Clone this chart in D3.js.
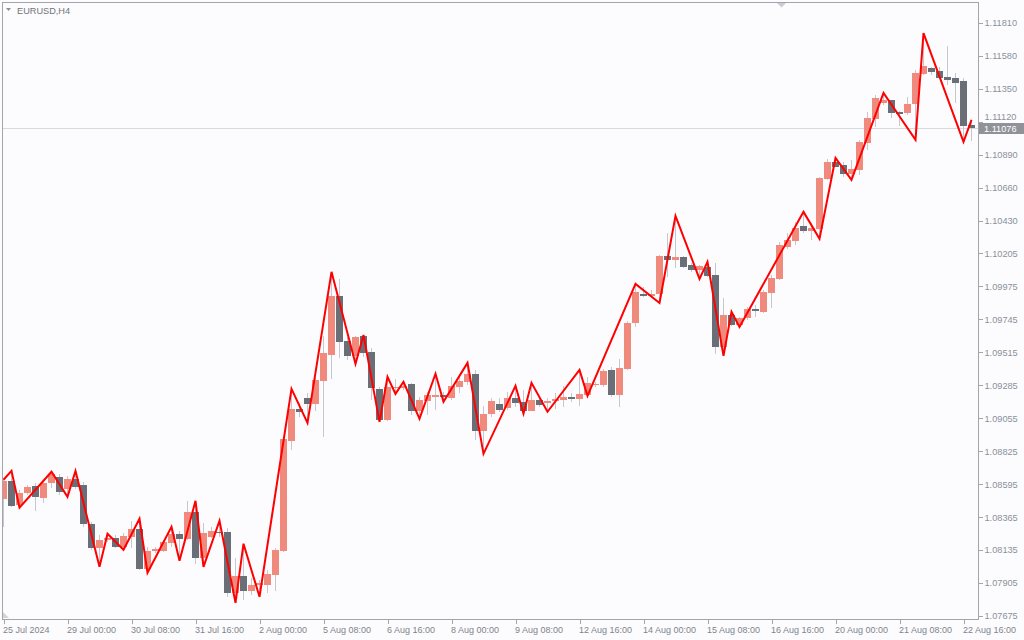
<!DOCTYPE html>
<html><head><meta charset="utf-8">
<script src="https://cdn.jsdelivr.net/npm/d3@7"></script>
<style>
html,body{margin:0;padding:0;background:#fcfcfe;}
svg{display:block;font-family:"Liberation Sans",Arial,sans-serif;}
</style>
</head><body>
<svg id="chart" width="1024" height="640"></svg>
<script>
const symbolTitle = "EURUSD,H4";
const lastPrice = 1.11076;

const opens = [1.08492,1.08618,1.08450,1.08534,1.08583,1.08499,1.08604,1.08646,1.08562,1.08632,
1.08590,1.08318,1.08151,1.08207,1.08220,1.08158,1.08227,1.08283,1.08004,1.08130,
1.08130,1.08186,1.08248,1.08213,1.08402,1.08081,1.08227,1.08262,1.08262,1.07837,
1.07956,1.07851,1.07893,1.07893,1.07963,1.08130,1.08897,1.09120,1.09196,1.09154,
1.09315,1.09496,1.09907,1.09594,1.09489,1.09628,1.09517,1.09259,1.09043,1.09266,
1.09266,1.09294,1.09106,1.09175,1.09203,1.09217,1.09196,1.09273,1.09308,1.09364,
1.08966,1.09085,1.09154,1.09127,1.09196,1.09168,1.09106,1.09182,1.09161,1.09175,
1.09182,1.09203,1.09189,1.09217,1.09287,1.09287,1.09391,1.09217,1.09398,1.09719,
1.09921,1.09907,1.09921,1.10186,1.10158,1.10179,1.10123,1.10088,1.10109,1.10054,
1.09552,1.09775,1.09705,1.09754,1.09817,1.09796,1.09928,1.10026,1.10249,1.10291,
1.10395,1.10360,1.10374,1.10723,1.10841,1.10820,1.10758,1.10785,1.10974,1.11141,
1.11252,1.11273,1.11190,1.11183,1.11245,1.11455,1.11496,1.11475,1.11434,1.11427,
1.11406,1.11099];

const highs = [1.08639,1.08687,1.08555,1.08590,1.08604,1.08625,1.08681,1.08667,1.08653,1.08687,
1.08611,1.08332,1.08241,1.08248,1.08241,1.08255,1.08339,1.08353,1.08158,1.08158,
1.08207,1.08297,1.08269,1.08478,1.08478,1.08325,1.08297,1.08339,1.08290,1.08081,
1.08179,1.07942,1.07928,1.07997,1.08151,1.08924,1.09259,1.09161,1.09231,1.09343,
1.09628,1.10075,1.10026,1.09621,1.09628,1.09635,1.09545,1.09273,1.09343,1.09329,
1.09308,1.09301,1.09203,1.09238,1.09364,1.09238,1.09343,1.09357,1.09440,1.09391,
1.09141,1.09196,1.09196,1.09238,1.09280,1.09252,1.09301,1.09196,1.09196,1.09231,
1.09280,1.09231,1.09391,1.09343,1.09308,1.09398,1.09412,1.09468,1.09733,1.09991,
1.09970,1.09949,1.10193,1.10346,1.10465,1.10186,1.10137,1.10123,1.10144,1.10137,
1.09893,1.09796,1.09761,1.09831,1.09844,1.09949,1.10054,1.10284,1.10346,1.10423,
1.10493,1.10416,1.10737,1.10862,1.10869,1.10841,1.10855,1.10995,1.11190,1.11308,
1.11322,1.11273,1.11197,1.11294,1.11482,1.11740,1.11503,1.11503,1.11650,1.11462,
1.11427,1.11134];

const lows = [1.08297,1.08437,1.08430,1.08520,1.08409,1.08464,1.08569,1.08520,1.08506,1.08562,
1.08297,1.08137,1.08018,1.08193,1.08151,1.08137,1.08151,1.07997,1.07977,1.08116,
1.08123,1.08158,1.08060,1.08207,1.08039,1.08018,1.08220,1.08227,1.07809,1.07767,
1.07788,1.07823,1.07809,1.07837,1.07851,1.08123,1.08834,1.09064,1.09022,1.09106,
1.08924,1.09329,1.09475,1.09461,1.09433,1.09482,1.09182,1.09029,1.09036,1.09224,
1.09252,1.09078,1.09050,1.09078,1.09113,1.09168,1.09182,1.09231,1.09287,1.08904,
1.08806,1.09064,1.09099,1.09113,1.09134,1.09085,1.09106,1.09134,1.09099,1.09120,
1.09134,1.09168,1.09141,1.09210,1.09273,1.09273,1.09203,1.09134,1.09391,1.09691,
1.09900,1.09893,1.09858,1.10040,1.10102,1.10102,1.10075,1.10026,1.10040,1.09503,
1.09489,1.09698,1.09691,1.09740,1.09761,1.09789,1.09824,1.10019,1.10235,1.10263,
1.10346,1.10298,1.10305,1.10716,1.10806,1.10737,1.10716,1.10751,1.10925,1.11085,
1.11238,1.11148,1.11092,1.11169,1.10995,1.11448,1.11448,1.11420,1.11378,1.11252,
1.10981,1.10988];

const closes = [1.08618,1.08444,1.08534,1.08576,1.08506,1.08604,1.08667,1.08541,1.08632,1.08576,
1.08318,1.08151,1.08207,1.08220,1.08158,1.08234,1.08283,1.08004,1.08130,1.08144,
1.08193,1.08248,1.08213,1.08402,1.08081,1.08255,1.08269,1.08255,1.07837,1.07956,
1.07851,1.07893,1.07907,1.07970,1.08137,1.08911,1.09120,1.09099,1.09154,1.09322,
1.09510,1.09907,1.09587,1.09489,1.09621,1.09510,1.09266,1.09043,1.09273,1.09273,
1.09280,1.09106,1.09182,1.09217,1.09217,1.09203,1.09280,1.09315,1.09364,1.08966,
1.09085,1.09175,1.09113,1.09196,1.09161,1.09106,1.09182,1.09147,1.09175,1.09189,
1.09203,1.09189,1.09224,1.09301,1.09294,1.09384,1.09217,1.09405,1.09719,1.09935,
1.09907,1.09921,1.10186,1.10158,1.10179,1.10109,1.10088,1.10116,1.10047,1.09552,
1.09775,1.09705,1.09754,1.09817,1.09803,1.09935,1.10033,1.10263,1.10298,1.10381,
1.10360,1.10381,1.10730,1.10841,1.10806,1.10758,1.10792,1.10981,1.11148,1.11287,
1.11273,1.11183,1.11176,1.11245,1.11462,1.11510,1.11469,1.11427,1.11413,1.11392,
1.11092,1.11076];

const zigzagIndex = [0,1,2,6,8,9,12,13,15,17,18,21,22,24,25,27,29,30,32,36,38,41,44,45,47,48,49,50,52,54,55,58,60,64,65,66,68,72,73,79,82,84,87,88,90,91,92,100,102,104,106,110,114,115,120,121];
const zigzagPrice = [1.08625,1.08687,1.08430,1.08681,1.08506,1.08687,1.08018,1.08248,1.08137,1.08353,
1.07977,1.08297,1.08060,1.08478,1.08018,1.08339,1.07767,1.08179,1.07809,1.09259,
1.09022,1.10075,1.09433,1.09635,1.09029,1.09343,1.09224,1.09308,1.09050,1.09364,
1.09168,1.09440,1.08806,1.09280,1.09085,1.09301,1.09099,1.09391,1.09210,1.09991,
1.09858,1.10465,1.10026,1.10144,1.09489,1.09796,1.09691,1.10493,1.10305,1.10869,
1.10716,1.11322,1.10995,1.11740,1.10981,1.11134];

const priceTicks = [1.11810,1.11580,1.11350,1.11120,1.10890,1.10660,1.10430,1.10205,1.09975,1.09745,
1.09515,1.09285,1.09055,1.08825,1.08595,1.08365,1.08135,1.07905,1.07675];

const timeTickIndex = [0,8,16,24,32,40,48,56,64,72,80,88,96,104,112,120];
const timeTickLabels = ["25 Jul 2024","29 Jul 00:00","30 Jul 08:00","31 Jul 16:00","2 Aug 00:00","5 Aug 08:00","6 Aug 16:00","8 Aug 00:00","9 Aug 08:00","12 Aug 16:00","14 Aug 00:00","15 Aug 08:00","16 Aug 16:00","20 Aug 00:00","21 Aug 08:00","22 Aug 16:00"];

// ---------- drawing ----------
const svg = d3.select("#chart");
const frame = {left:2, top:2, right:978, bottom:619};
const x = d3.scaleLinear().domain([0, 121]).range([3.5, 971.5]);
const y = d3.scaleLinear().domain([1.07675, 1.11810]).range([616, 23]);
const FONT = "'Liberation Sans',Arial,sans-serif";

const candles = opens.map((o,i)=>({i, o, h:highs[i], l:lows[i], c:closes[i]}));

svg.append("rect").attr("width",1024).attr("height",640).attr("fill","#fcfcfe");

svg.append("defs").append("clipPath").attr("id","plotclip")
  .append("rect").attr("x",frame.left+1).attr("y",frame.top+1)
  .attr("width",frame.right-frame.left-1).attr("height",frame.bottom-frame.top-1);

const plot = svg.append("g").attr("clip-path","url(#plotclip)");

// current price line
plot.append("line")
  .attr("x1",frame.left).attr("x2",frame.right)
  .attr("y1",Math.round(y(lastPrice))+0.5).attr("y2",Math.round(y(lastPrice))+0.5)
  .attr("stroke","#d6d9de").attr("stroke-width",1);

// wicks
plot.append("g").selectAll("line").data(candles).join("line")
  .attr("x1",d=>x(d.i)).attr("x2",d=>x(d.i))
  .attr("y1",d=>Math.round(y(d.h))).attr("y2",d=>Math.round(y(d.l)))
  .attr("stroke","#c4c8d0").attr("stroke-width",1).attr("shape-rendering","crispEdges");

// bodies
plot.append("g").selectAll("rect").data(candles).join("rect")
  .attr("x",d=>x(d.i)-3.5)
  .attr("width",7)
  .attr("y",d=>Math.round(y(Math.max(d.o,d.c))))
  .attr("height",d=>Math.max(1, Math.round(y(Math.min(d.o,d.c))) - Math.round(y(Math.max(d.o,d.c)))))
  .attr("fill",d=>d.c>=d.o ? "#f08a7c" : "#6a6e76")
  .attr("shape-rendering","crispEdges");

// zigzag
const zz = zigzagIndex.map((k,j)=>({i:k, p:zigzagPrice[j]}));
plot.append("path").datum(zz)
  .attr("d", d3.line().x(d=>x(d.i)).y(d=>y(d.p)))
  .attr("fill","none").attr("stroke","#ff0000").attr("stroke-width",2)
  .attr("stroke-linejoin","miter");

// frame
const fc = "#a3a5aa";
svg.append("line").attr("x1",frame.left+0.5).attr("x2",frame.left+0.5).attr("y1",frame.top).attr("y2",frame.bottom+1).attr("stroke",fc);
svg.append("line").attr("x1",frame.left).attr("x2",frame.right+1).attr("y1",frame.top+0.5).attr("y2",frame.top+0.5).attr("stroke",fc);
svg.append("line").attr("x1",frame.right+0.5).attr("x2",frame.right+0.5).attr("y1",frame.top).attr("y2",frame.bottom+1).attr("stroke",fc);
svg.append("line").attr("x1",frame.left).attr("x2",frame.right+1).attr("y1",frame.bottom+0.5).attr("y2",frame.bottom+0.5).attr("stroke",fc);

// price axis (the label hidden by the last-price box is skipped, as in the original where it is covered)
const lyPix = y(lastPrice);
const yAxis = d3.axisRight(y).tickValues(priceTicks).tickSize(4).tickPadding(2)
  .tickFormat(d=>d.toFixed(5));
const ya = svg.append("g").attr("transform",`translate(${frame.right+0.5},0)`).call(yAxis);
ya.select(".domain").remove();
ya.selectAll(".tick line").attr("stroke",fc).attr("shape-rendering","crispEdges");
ya.selectAll(".tick text").attr("fill","#8a909b").attr("font-size","9.2px")
  .attr("font-family",FONT);
// shift the tick label that sits under the last-price box upward so it stays readable
ya.selectAll(".tick").filter(d=>Math.abs(y(d)-lyPix)<12).select("text")
  .attr("dy","-0.25em");

// time axis
const xAxis = d3.axisBottom(x).tickValues(timeTickIndex).tickSize(4).tickPadding(3)
  .tickFormat((d,j)=>timeTickLabels[j]);
const xa = svg.append("g").attr("transform",`translate(0,${frame.bottom+0.5})`).call(xAxis);
xa.select(".domain").remove();
xa.selectAll(".tick line").attr("stroke",fc).attr("shape-rendering","crispEdges");
xa.selectAll(".tick text").attr("fill","#7e838c").attr("font-size","9px")
  .attr("text-anchor","start").attr("dx","-1")
  .attr("font-family",FONT);

// last price label
const ly = Math.round(lyPix);
svg.append("rect").attr("x",frame.right+1).attr("y",ly-5).attr("width",45).attr("height",11).attr("fill","#8f9399");
svg.append("text").attr("x",984).attr("y",ly+3.5).attr("fill","#ffffff").attr("font-size","9.2px")
  .attr("font-family",FONT).text(lastPrice.toFixed(5));

// title
svg.append("path").attr("d","M6,8 L11,8 L8.5,11 Z").attr("fill","#8a8e96");
svg.append("text").attr("x",17).attr("y",13.5).attr("fill","#6f737b").attr("font-size","9.2px")
  .attr("font-family",FONT).text(symbolTitle);

// shift marker (top) and scroll marker (bottom-left)
svg.append("path").attr("d","M777,3 L786,3 L781.5,7.5 Z").attr("fill","#c9ccd4");
svg.append("path").attr("d","M3,612 L3,618 L9,618 Z").attr("fill","#d0d3da");
</script>
</body></html>
